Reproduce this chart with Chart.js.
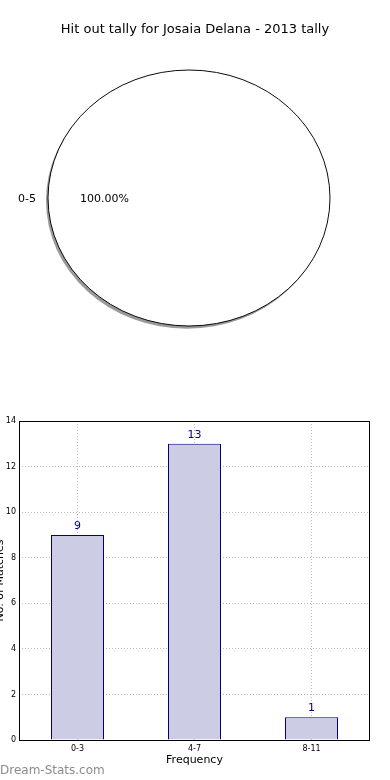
<!DOCTYPE html>
<html>
<head>
<meta charset="utf-8">
<script src="https://cdn.jsdelivr.net/npm/chart.js@4"></script>
<style>
  body { margin: 0; background: #fff; }
  .box { position: relative; width: 390px; height: 390px; }
</style>
</head>
<body>
<div class="box"><canvas id="pieChart"></canvas></div>
<div class="box"><canvas id="barChart"></canvas></div>
<script>
const titleText = 'Hit out tally for Josaia Delana - 2013 tally';
const pieLabels = ['0-5'];
const pieValues = [23];
const barLabels = ['0-3', '4-7', '8-11'];
const barValues = [9, 13, 1];
const yTicks = [0, 2, 4, 6, 8, 10, 12, 14];

const font = 'DejaVu Sans';
Chart.defaults.font.family = font;
Chart.defaults.animation = false;

// pie: squash the circle into an ellipse and draw matplotlib-ish labels
const squash = 128 / 141;
const piePlugin = {
    id: 'pieExtras',
    beforeDatasetsDraw(chart) {
        const arc = chart.getDatasetMeta(0).data[0];
        const c = chart.ctx;
        c.save();
        c.translate(0, arc.y);
        c.scale(1, squash);
        c.translate(0, -arc.y);
        // shadow
        c.beginPath();
        c.arc(arc.x - 2, arc.y + 3, arc.outerRadius, 0, Math.PI * 2);
        c.fillStyle = '#9a9a9a';
        c.fill();
    },
    afterDatasetsDraw(chart) {
        const c = chart.ctx;
        const arc = chart.getDatasetMeta(0).data[0];
        // outline without the radial edge of a single slice
        c.beginPath();
        c.arc(arc.x, arc.y, arc.outerRadius, 0, Math.PI * 2);
        c.strokeStyle = '#000';
        c.lineWidth = 1;
        c.stroke();
        c.restore();
        const total = pieValues.reduce((a, b) => a + b, 0);
        c.save();
        c.fillStyle = '#000';
        c.font = '13px ' + font;
        c.textAlign = 'center';
        c.textBaseline = 'middle';
        c.fillText(titleText, 195, 30);
        c.font = '11px ' + font;
        c.textAlign = 'right';
        c.fillText(pieLabels[0], arc.x - 1.1 * arc.outerRadius + 2, arc.y + 1);
        c.textAlign = 'center';
        c.fillText((pieValues[0] / total * 100).toFixed(2) + '%', arc.x - 0.6 * arc.outerRadius, arc.y + 1);
        c.restore();
    }
};

new Chart(document.getElementById('pieChart'), {
    type: 'pie',
    data: {
        labels: pieLabels,
        datasets: [{
            data: pieValues,
            backgroundColor: '#ffffff',
            borderWidth: 0
        }]
    },
    options: {
        responsive: true,
        maintainAspectRatio: false,
        layout: { padding: { left: 48, right: 60, top: 57, bottom: 51 } },
        plugins: { legend: { display: false }, tooltip: { enabled: false } }
    },
    plugins: [piePlugin]
});

const barPlugin = {
    id: 'barExtras',
    afterDraw(chart) {
        const c = chart.ctx;
        const a = chart.chartArea;
        c.save();
        c.strokeStyle = '#000';
        c.lineWidth = 1;
        c.strokeRect(a.left + 0.5, a.top + 0.5, a.right - a.left - 1, a.bottom - a.top);
        // value labels
        c.fillStyle = '#000080';
        c.font = '11px ' + font;
        c.textAlign = 'center';
        c.textBaseline = 'middle';
        chart.getDatasetMeta(0).data.forEach((bar, i) => {
            c.fillText(String(barValues[i]), bar.x, bar.y - 9);
        });
        // y title, cut at the left edge like the original
        c.fillStyle = '#000';
        c.save();
        c.translate(0, (a.top + a.bottom) / 2);
        c.rotate(-Math.PI / 2);
        c.fillText('No. of Matches', 0, 0);
        c.restore();
        // watermark
        c.fillStyle = '#8c8c8c';
        c.font = '12px ' + font;
        c.textAlign = 'left';
        c.fillText('Dream-Stats.com', 0, 381);
        c.restore();
    }
};

new Chart(document.getElementById('barChart'), {
    type: 'bar',
    data: {
        labels: barLabels,
        datasets: [{
            data: barValues,
            backgroundColor: '#ccccE5',
            borderColor: '#000080',
            borderWidth: 1,
            barPercentage: 53 / 117,
            categoryPercentage: 1
        }]
    },
    options: {
        responsive: true,
        maintainAspectRatio: false,
        layout: { padding: { left: 0, right: 20, top: 31, bottom: 13 } },
        plugins: { legend: { display: false }, tooltip: { enabled: false } },
        scales: {
            x: {
                afterFit(s) { s.height = 27; },
                grid: { offset: false, drawTicks: false, color: '#b8b8b8' },
                border: { display: false, dash: [1, 2] },
                ticks: { padding: 4, color: '#000', font: { size: 8 } },
                title: { display: true, text: 'Frequency', color: '#000', font: { size: 11 }, padding: 0 }
            },
            y: {
                min: 0,
                max: 14,
                afterFit(s) { s.width = 19; },
                afterBuildTicks(s) { s.ticks = yTicks.map(v => ({ value: v })); },
                grid: { drawTicks: false, color: '#b8b8b8' },
                border: { display: false, dash: [1, 2] },
                ticks: { padding: 3, color: '#000', font: { size: 8 } }
            }
        }
    },
    plugins: [barPlugin]
});
</script>
</body>
</html>
